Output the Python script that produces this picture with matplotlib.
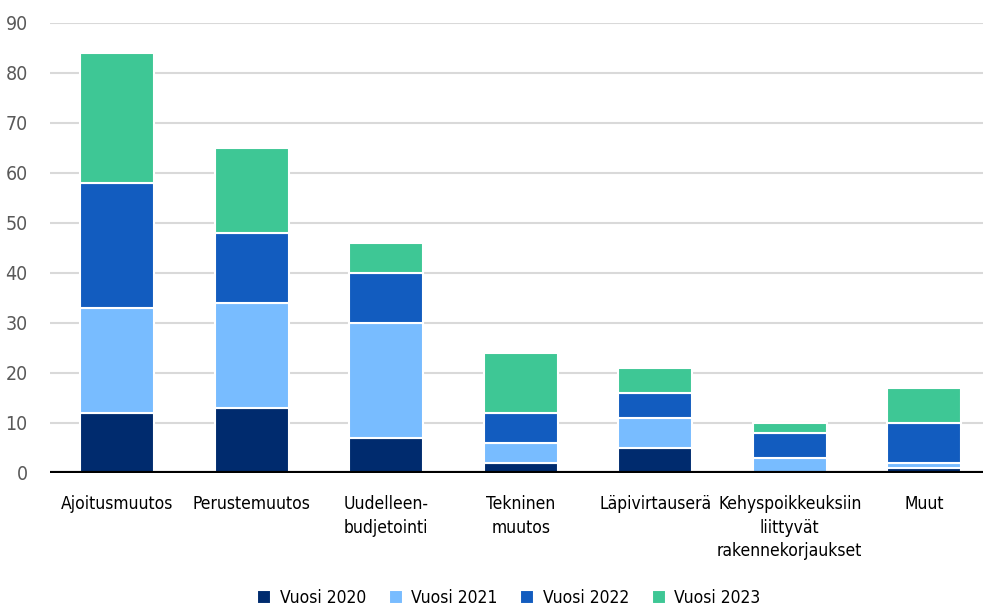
import matplotlib.pyplot as plt
import numpy as np

# luokat ja vuosittaiset muutokset
kategoriat = ["Ajoitusmuutos", "Perustemuutos", "Uudelleen-\nbudjetointi", "Tekninen\nmuutos",
              "Läpivirtauserä", "Kehyspoikkeuksiin\nliittyvät\nrakennekorjaukset", "Muut"]
v2020 = [12, 13, 7, 2, 5, 0, 1]
v2021 = [21, 21, 23, 4, 6, 3, 1]
v2022 = [25, 14, 10, 6, 5, 5, 8]
v2023 = [26, 17, 6, 12, 5, 2, 7]

sarjat = ["Vuosi 2020", "Vuosi 2021", "Vuosi 2022", "Vuosi 2023"]
varit = ["#002b6e", "#78bcff", "#125cbf", "#3ec795"]

plt.rcParams['font.family'] = ['DejaVu Sans']
plt.rcParams['font.stretch'] = 'condensed'

fig = plt.figure(figsize=(9.83, 6.08), dpi=100)
ax = fig.add_axes([50 / 983, (608 - 473) / 608, 933 / 983, 450 / 608])

x = np.arange(len(kategoriat))
pohja = np.zeros(len(kategoriat))
for arvot, nimi, vari in zip([v2020, v2021, v2022, v2023], sarjat, varit):
    ax.bar(x, arvot, width=0.55, bottom=pohja, color=vari, edgecolor="white",
           linewidth=1.5, label=nimi, zorder=3)
    pohja += np.array(arvot)

ax.set_ylim(0, 90)
ax.set_xlim(-0.5, -0.5 + 933 / 134.5)
ax.set_yticks(range(0, 91, 10))
ax.yaxis.grid(True, color="#d9d9d9", linewidth=1.5, zorder=0)
ax.axhline(0, color="black", linewidth=3, zorder=4)

for s in ax.spines.values():
    s.set_visible(False)
ax.tick_params(axis="y", length=0, labelsize=14, labelcolor="#595959", pad=16)
ax.tick_params(axis="x", length=0, labelsize=12.5, pad=16)
ax.set_xticks(x)
ax.set_xticklabels(kategoriat, linespacing=1.4)

fig.legend(loc="center", bbox_to_anchor=(509 / 983, 1 - 598 / 608), ncol=4, frameon=False,
           fontsize=12.5, handlelength=0.8, handleheight=0.8, handletextpad=0.5, columnspacing=1.3)

fig.savefig("out.png", dpi=100)
